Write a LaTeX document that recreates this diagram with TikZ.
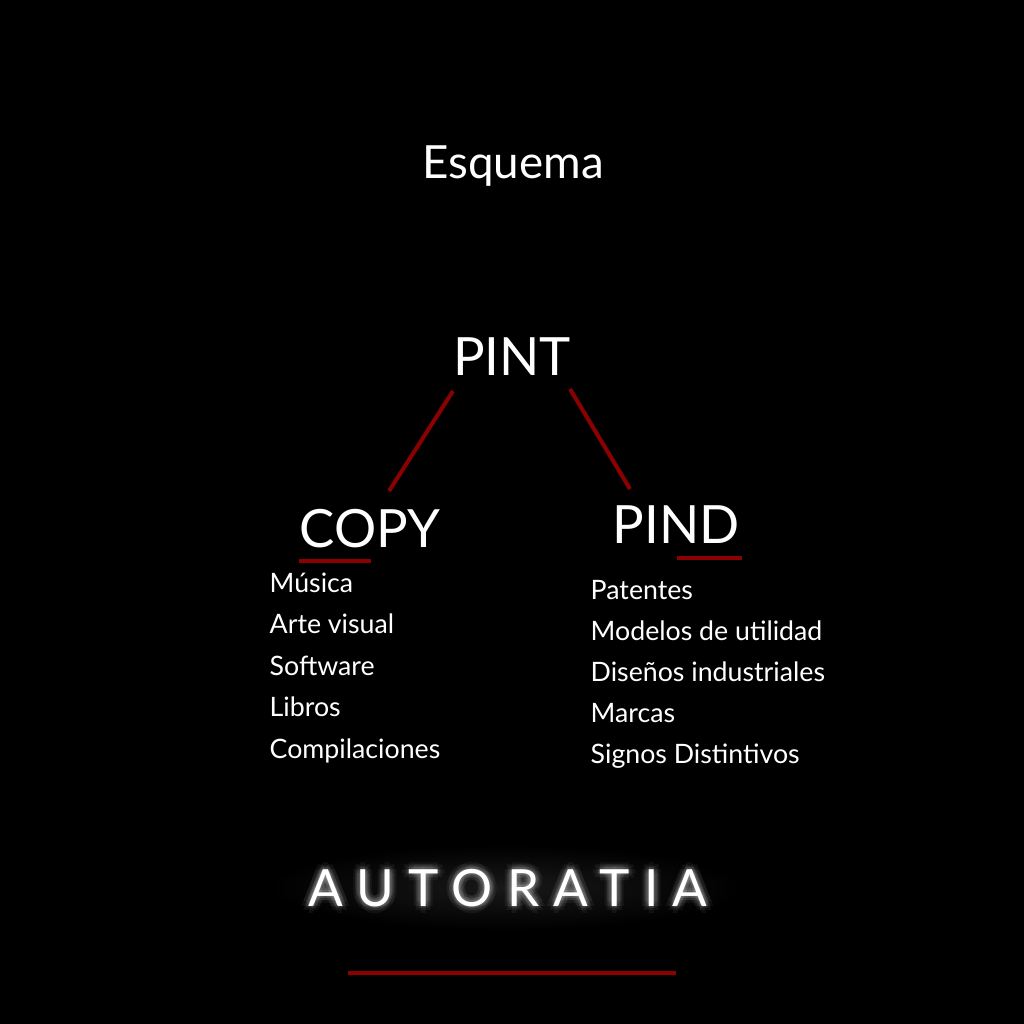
\documentclass[tikz,border=0pt]{standalone}
\usepackage{fontspec}
\setmainfont{Lato}
\usetikzlibrary{positioning,calc,fadings}
\definecolor{darkred}{HTML}{8B0000}
\tikzfading[name=glowfade, inner color=transparent!20, outer color=transparent!100]

\begin{document}
\begin{tikzpicture}[x=0.01cm,y=-0.01cm,
      wtext/.style={text=white, inner sep=0pt, anchor=base},
      head/.style={wtext, font=\fontsize{15}{18}\selectfont},
      item/.style={wtext, anchor=base west, font=\fontsize{7.6}{9}\selectfont},
      brand/.style={wtext, font=\fontsize{14.6}{18}\selectfont\addfontfeature{LetterSpace=28}},
      link/.style={draw=darkred, line width=1.15pt}
      ]
      \fill[black] (0,0) rectangle (1024,1024);
      \useasboundingbox (0,0) rectangle (1024,1024);
      % title and tree
      \node[wtext, font=\fontsize{13}{16}\selectfont] (TITLE) at (513,178) {Esquema};
      \node[head] (PINT) at (512,375) {PINT};
      \node[head] (COPY) at (370,547) {COPY};
      \node[head] (PIND) at (676,543) {PIND};
      \draw[link] ($(PINT.base)+(-59,16)$) -- ($(COPY.base)+(19,-56)$);
      \draw[link] ($(PINT.base)+(58,14)$) -- ($(PIND.base)+(-46,-54)$);
      \draw[link] ($(COPY.base west)+(0,14)$) -- ($(COPY.base)+(1,14)$);
      \draw[link] ($(PIND.base)+(1,15)$) -- ($(PIND.base east)+(2,15)$);
      % lists
      \foreach \t [count=\i] in {Música, Arte visual, Software, Libros, Compilaciones}
        \node[item] (COPY\i) at (269,{592+41.6*(\i-1)}) {\t};
      \foreach \t [count=\i] in {Patentes, Modelos de utilidad, Diseños industriales, Marcas, Signos Distintivos}
        \node[item] (PIND\i) at (590,{599+41.2*(\i-1)}) {\t};
      % brand with glow
      \fill[white, opacity=0.12, path fading=glowfade] (270,845) rectangle (740,930);
      \foreach \a in {0,45,...,315}
        \foreach \r in {2,4,7}
          \node[brand, opacity=0.05] at ($(508,906)+(\a:\r)$) {AUTORATIA};
      \node[brand] (BRAND) at (508,906) {AUTORATIA};
      \draw[link] (348,973) -- (676,973);
\end{tikzpicture}
\end{document}
